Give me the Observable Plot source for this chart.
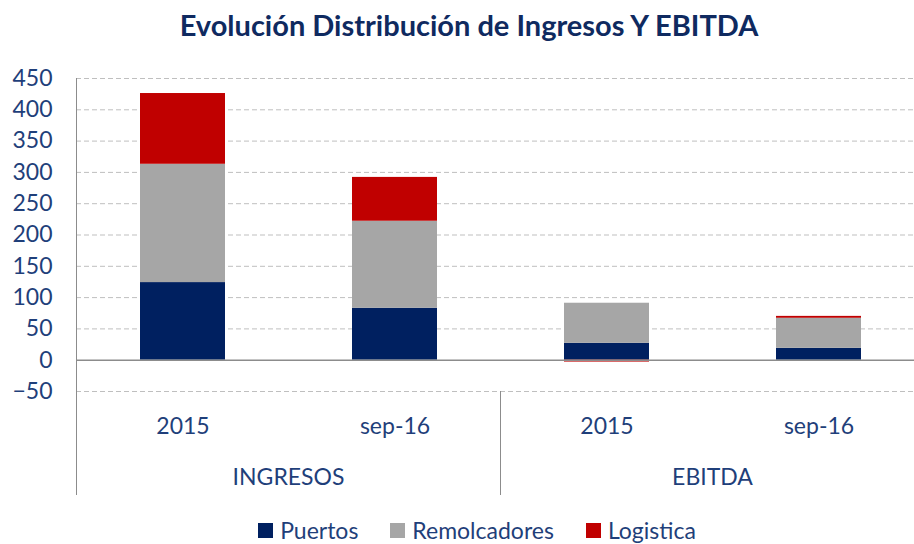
<!DOCTYPE html>
<html>
<head>
<meta charset="utf-8">
<script src="https://cdn.jsdelivr.net/npm/d3@7"></script>
<script src="https://cdn.jsdelivr.net/npm/@observablehq/plot@0.6"></script>
<style>
  body { margin: 0; background: #fff; }
  #wrap { position: relative; width: 914px; height: 544px; overflow: hidden; font-family: Lato, "Open Sans", sans-serif; }
  #title { position: absolute; left: 0; top: 7px; width: 938px; text-align: center; font-weight: bold; font-size: 29px; color: #0f2a60; }
  #chart { position: absolute; left: 0; top: 50px; }
  #legend { position: absolute; left: 0; top: 516px; width: 954px; display: flex; justify-content: center; align-items: center; font-size: 23px; color: #1f3f7a; }
  .item { display: flex; align-items: center; margin: 0 16px; }
  .sw { width: 15px; height: 15px; margin-right: 7px; }
</style>
</head>
<body>
<div id="wrap">
  <div id="title">Evolución Distribución de Ingresos Y EBITDA</div>
  <div id="chart"></div>
  <div id="legend"></div>
</div>
<script>
const titleText = "Evolución Distribución de Ingresos Y EBITDA";
const groups = ["INGRESOS", "INGRESOS", "EBITDA", "EBITDA"];
const periods = ["2015", "sep-16", "2015", "sep-16"];
const groupOrder = ["INGRESOS", "EBITDA"];
const periodOrder = ["2015", "sep-16"];
const series = ["Puertos", "Remolcadores", "Logistica"];
const colors = ["#002060", "#a6a6a6", "#c00000"];
const puertos = [124, 83, 27, 19];
const remolcadores = [189, 139, 64, 48];
const logistica = [113, 70, -3, 3];
const yTicks = [-50, 0, 50, 100, 150, 200, 250, 300, 350, 400, 450];

const valuesBySeries = [puertos, remolcadores, logistica];
const rows = periods.flatMap((p, i) =>
  series.map((s, j) => ({group: groups[i], period: p, series: s, value: valuesBySeries[j][i]}))
);

const chart = Plot.plot({
  width: 914,
  height: 456,
  marginTop: 28,
  marginBottom: 115,
  marginLeft: 75,
  marginRight: -10,
  style: {fontFamily: "Lato, 'Open Sans', sans-serif", fontSize: "23px", color: "#1f3f7a", background: "transparent", overflow: "visible"},
  fx: {domain: groupOrder, paddingInner: 0, paddingOuter: 0, label: null},
  x: {domain: periodOrder, paddingInner: 0.6, paddingOuter: 0.3, label: null},
  y: {domain: [-50, 450], label: null},
  color: {domain: series, range: colors},
  marks: [
    Plot.gridY(yTicks.filter(d => d !== 0), {stroke: "#bfbfbf", strokeOpacity: 1, strokeDasharray: "5,3"}),
    Plot.barY(rows, Plot.stackY({fx: "group", x: "period", y: "value", fill: "series", order: series})),
    Plot.ruleY([0], {stroke: "#8c8c8c", strokeWidth: 1.5}),
    Plot.frame({anchor: "left", facet: "super", stroke: "#8c8c8c", insetBottom: -103}),
    Plot.frame({anchor: "left", stroke: "#8c8c8c", insetTop: 313, insetBottom: -103}),
    Plot.axisY({ticks: yTicks, tickSize: 0, tickPadding: 24, label: null}),
    Plot.axisX({tickSize: 0, tickPadding: 26, label: null}),
    Plot.axisFx({anchor: "bottom", tickSize: 0, tickPadding: 77, label: null})
  ]
});
document.getElementById("chart").appendChild(chart);

const legend = document.getElementById("legend");
series.forEach((s, i) => {
  const item = document.createElement("div");
  item.className = "item";
  const sw = document.createElement("div");
  sw.className = "sw";
  sw.style.background = colors[i];
  const t = document.createElement("span");
  t.textContent = s;
  item.appendChild(sw);
  item.appendChild(t);
  legend.appendChild(item);
});
document.getElementById("title").textContent = titleText;
</script>
</body>
</html>
